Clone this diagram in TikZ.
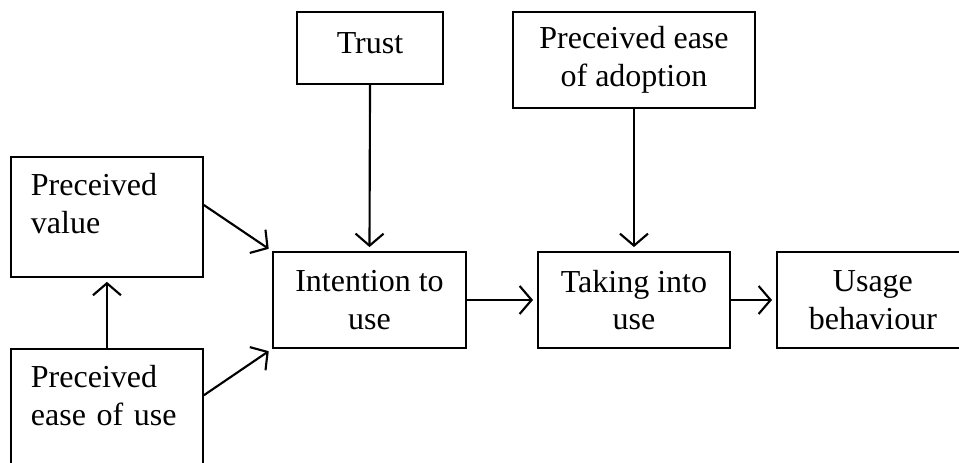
\documentclass[tikz,border=0pt]{standalone}
\usepackage{fontspec}
\setmainfont{Liberation Serif}
\usetikzlibrary{positioning, arrows.meta}

\begin{document}
\begin{tikzpicture}[scale=1.0,
  box/.style={draw, line width=0.7pt, inner sep=0pt, align=center,
    minimum height=1.265cm, font=\fontsize{12}{14.2}\selectfont},
  leftbox/.style={draw, line width=0.7pt, anchor=north west, align=left,
    text width=57pt, inner xsep=7.5pt, inner ysep=0pt,
    text height=14.6pt, text depth=30.4pt, font=\fontsize{12}{14.2}\selectfont},
  arr/.style={-{Straight Barb[length=4.5pt,width=10.5pt]}, line width=0.8pt, shorten >=1.5pt}]
\path[use as bounding box, clip] (0,0) rectangle (12.64,6.102);

% top row
\node [box, minimum width=1.924cm, minimum height=0pt, text height=15.4pt, text depth=11.6pt] (trust) at (4.877,5.470) {Trust};
\node [box, minimum width=3.190cm] (ease_adopt) at (8.356,5.312) {Preceived ease\\of adoption};

% left column
\node [leftbox] (value) at (0.132,4.046) {Preceived\\value};
\node [leftbox] (ease_use) at (0.132,1.516) {Preceived\\ease of use};

% middle row
\node [box, minimum width=2.544cm] (intention) at (4.870,2.148) {Intention to\\use};
\node [box, minimum width=2.531cm] (taking) at (8.356,2.148) {Taking into\\use};
\node [box, minimum width=2.531cm] (usage) at (11.506,2.148) {Usage\\behaviour};

\draw[arr] (value.7) -- (intention.north west);
\draw[arr] (ease_use.8) -- (intention.south west);
\draw[arr] (ease_use.north) -- (value.south);
\draw[arr] (trust.south) -- (intention.north);
\draw[arr] (ease_adopt.south) -- (taking.north);
\draw[arr] (intention.east) -- (taking.west);
\draw[arr] (taking.east) -- (usage.west);
\end{tikzpicture}
\end{document}
